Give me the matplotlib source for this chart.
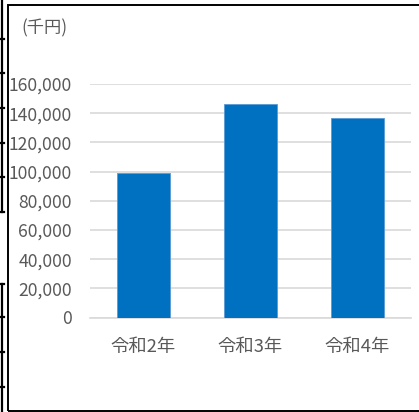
import matplotlib
matplotlib.use("Agg")
import matplotlib.pyplot as plt
from matplotlib.lines import Line2D
from matplotlib.patches import Rectangle
from matplotlib.ticker import FuncFormatter

plt.rcParams['font.family'] = ['Noto Sans CJK JP', 'DejaVu Sans']

# data
categories = ['令和2年', '令和3年', '令和4年']
values = [99000, 146000, 136800]
y_ticks = [0, 20000, 40000, 60000, 80000, 100000, 120000, 140000, 160000]
unit_label = '(千円)'

W, H = 419, 412
text_color = '#595959'
grid_color = '#d9d9d9'
bar_color = '#0070c0'


def px(x, y):
    """pixel coords (top-left origin) -> figure fraction"""
    return x / W, 1 - y / H


fig = plt.figure(figsize=(W / 100, H / 100), dpi=100)
fig.patch.set_facecolor('white')

left, top = px(90, 84)
right, bottom = px(411, 317.5)
ax = fig.add_axes([left, bottom, right - left, top - bottom])

x = range(len(categories))
ax.bar(x, values, width=0.5, color=bar_color, edgecolor='#5b9bd5',
       linewidth=0.6, zorder=3)

ax.set_xlim(-0.5, len(categories) - 0.5)
ax.set_ylim(0, 160000)
ax.set_yticks(y_ticks)
ax.yaxis.set_major_formatter(FuncFormatter(lambda v, p: f'{int(v):,}'))
ax.set_xticks(list(x))
ax.set_xticklabels(categories)

ax.grid(axis='y', color=grid_color, linewidth=1.2, zorder=0)
ax.set_axisbelow(True)
for side in ['top', 'right', 'left']:
    ax.spines[side].set_visible(False)
ax.spines['bottom'].set_color(grid_color)
ax.spines['bottom'].set_linewidth(1.2)
ax.tick_params(axis='both', length=0, colors=text_color)
ax.tick_params(axis='y', labelsize=12.6, pad=13)
ax.tick_params(axis='x', labelsize=13.2, pad=14.5)

fig.text(*px(21, 28), unit_label, color=text_color, fontsize=12.4,
         ha='left', va='center')

# chart border (right edge cut off)
x0, y0 = px(7.5, 4.5)
x1, y1 = px(425, 411)
fig.add_artist(Rectangle((x0, y1), x1 - x0, y0 - y1, transform=fig.transFigure,
                         fill=False, edgecolor='black', linewidth=1.4))

# bits of spreadsheet cell borders showing on the left
def seg(xa, ya, xb, yb, lw=1.6):
    p0, p1 = px(xa, ya), px(xb, yb)
    fig.add_artist(Line2D([p0[0], p1[0]], [p0[1], p1[1]],
                          transform=fig.transFigure, color='black', linewidth=lw))

seg(2, 0, 2, 212)
seg(0, 212, 3.5, 212)
for yy in [39, 73, 108, 143, 177]:
    seg(0, yy, 4, yy)
seg(2, 284, 2, 412)
seg(0, 284, 3.5, 284)
for yy in [317, 352, 387]:
    seg(0, yy, 4, yy)

fig.savefig('out.png', dpi=100)
